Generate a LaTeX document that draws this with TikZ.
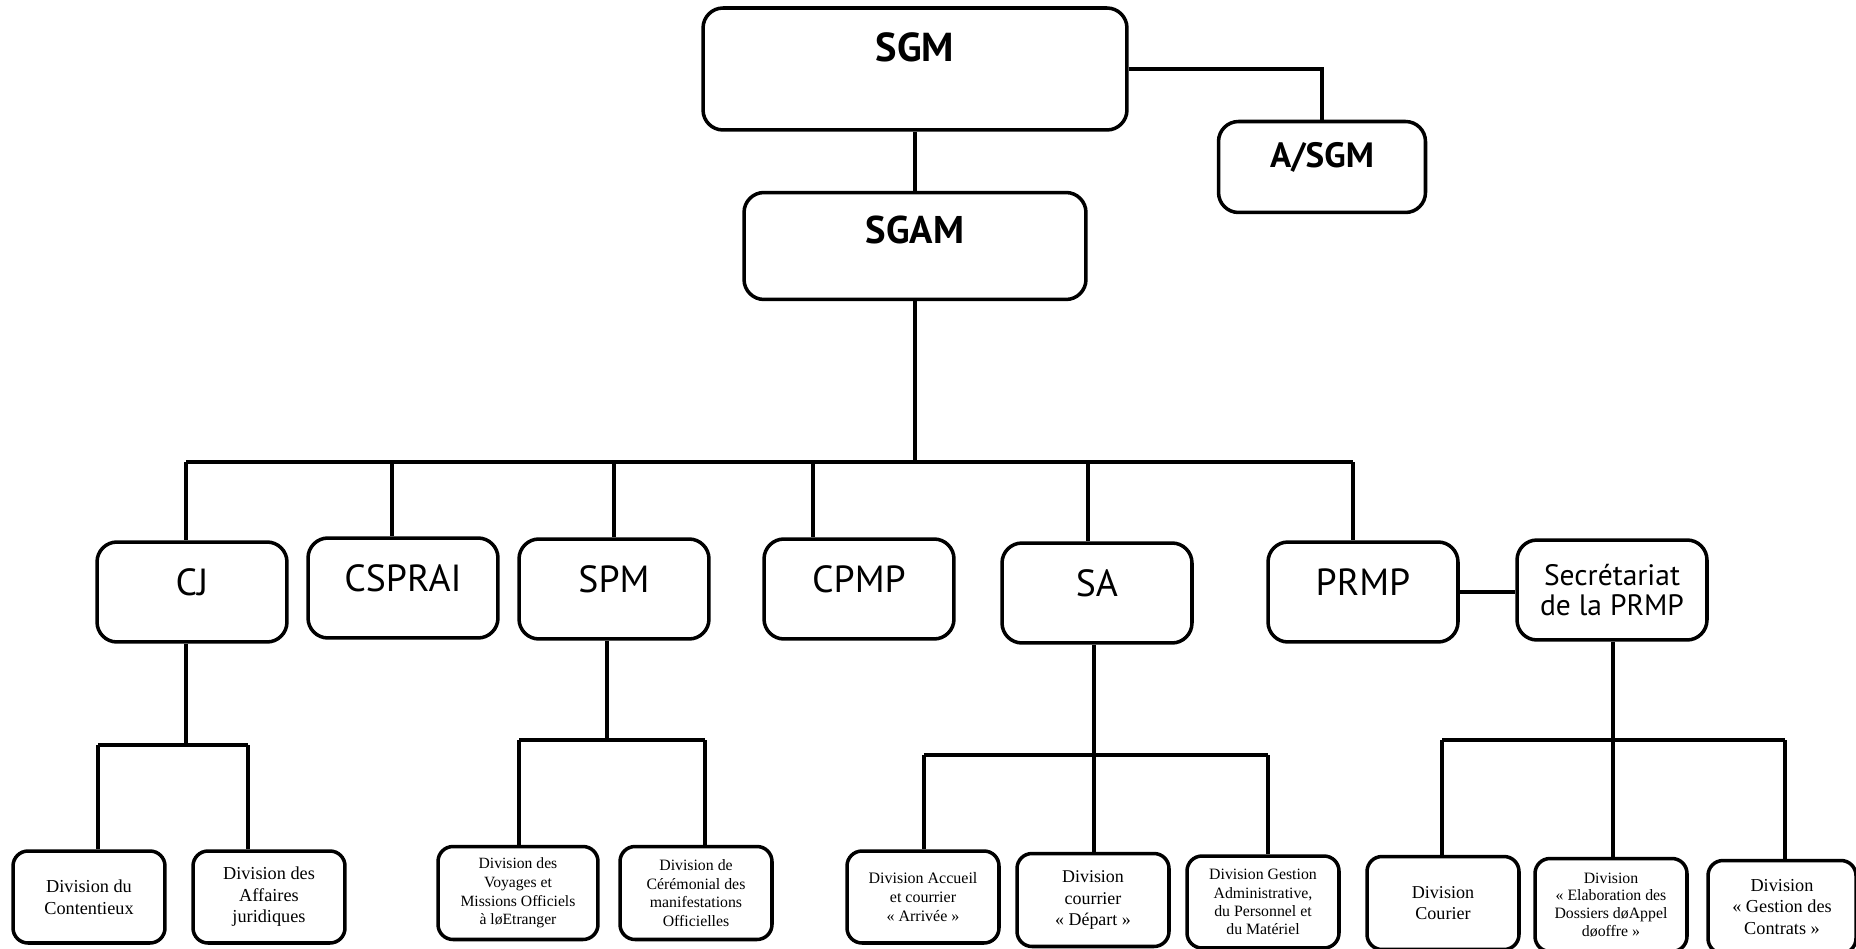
\documentclass[tikz,border=0pt]{standalone}
\usepackage{fontspec}
\setmainfont{Liberation Serif}
\newfontfamily\unitfont{PT Sans}
\usetikzlibrary{math}

\tikzset{
  unit/.style={draw, line width=2pt, rounded corners=0.4cm, align=center, inner sep=0pt},
  division/.style={draw, line width=2pt, rounded corners=0.3cm, align=center, inner sep=0pt,
    minimum width=3.04cm, minimum height=1.84cm},
  link/.style={line width=1.8pt}
}

\begin{document}
\begin{tikzpicture}[x=0.02cm,y=-0.02cm]
\useasboundingbox (0,0) rectangle (1856,949);
\tikzmath{
\busy=462;
\cjy=745;
\spmy=740;
\say=755;
\secy=740;
}

% direction
\node[unit, minimum width=8.48cm, minimum height=2.44cm, text height=0.56cm, text depth=0.84cm,
  font=\unitfont\bfseries\fontsize{23}{23}\selectfont] (SGM) at (915,69) {SGM};
\node[unit, minimum width=4.14cm, minimum height=1.82cm, text height=0.48cm, text depth=0.46cm,
  font=\unitfont\bfseries\fontsize{20}{20}\selectfont] (ASGM) at (1322,167) {A/SGM};
\node[unit, minimum width=6.84cm, minimum height=2.14cm, text height=0.54cm, text depth=0.62cm,
  font=\unitfont\bfseries\fontsize{22}{22}\selectfont] (SGAM) at (915,246) {SGAM};

\draw[link] (SGM) -- (SGAM);
\draw[link] (SGM.east) -| (ASGM.north);

% services
\tikzset{service/.style={unit, minimum width=3.8cm, minimum height=2cm, text height=0.52cm, text depth=0.38cm,
  font=\unitfont\fontsize{21.5}{21.5}\selectfont}}
\node[service] (CJ) at (192,592) {CJ};
\node[service] (CSPRAI) at (403,588) {CSPRAI};
\node[service] (SPM) at (614,589) {SPM};
\node[service] (CPMP) at (859,589) {CPMP};
\node[service] (SA) at (1097,593) {SA};
\node[service] (PRMP) at (1363,592) {PRMP};
\node[unit, minimum width=3.8cm, minimum height=2cm, font=\unitfont\fontsize{16.8}{17.4}\selectfont]
  (SecPRMP) at (1612,590) {Secrétariat\\de la PRMP};

\coordinate (bus) at (915,\busy);
\draw[link] (SGAM.south) -- (bus);
\draw[link] (bus -| 186,0) -- (bus -| 1353,0);
\foreach \n/\x in {CJ/186, CSPRAI/392, SPM/614, CPMP/813, SA/1088, PRMP/1353}
  \draw[link] (bus -| \x,0) -- (\n.north -| \x,0);
\draw[link] (PRMP.east) -- (SecPRMP.west |- PRMP.east);

% divisions CJ
\node[division, font=\fontsize{10.4}{12.3}\selectfont] (Contentieux) at (89,897) {Division du\\Contentieux};
\node[division, font=\fontsize{10.4}{12.2}\selectfont] (Affaires) at (269,897) {Division des\\Affaires\\juridiques};
\coordinate (cjbus) at (186,\cjy);
\draw[link] (CJ.south -| cjbus) -- (cjbus);
\draw[link] (cjbus -| 98,0) -- (cjbus -| 248,0);
\foreach \n/\x in {Contentieux/98, Affaires/248}
  \draw[link] (cjbus -| \x,0) -- (\n.north -| \x,0);

% divisions SPM
\node[division, minimum width=3.2cm, minimum height=1.86cm, font=\fontsize{8.9}{10.7}\selectfont] (Voyages) at (518,893)
  {Division des\\Voyages et\\Missions Officiels\\à løEtranger};
\node[division, minimum height=1.86cm, font=\fontsize{9}{10.7}\selectfont] (Ceremonial) at (696,893)
  {Division de\\Cérémonial des\\manifestations\\Officielles};
\coordinate (spmbus) at (607,\spmy);
\draw[link] (SPM.south -| spmbus) -- (spmbus);
\draw[link] (spmbus -| 519,0) -- (spmbus -| 705,0);
\foreach \n/\x in {Voyages/519, Ceremonial/705}
  \draw[link] (spmbus -| \x,0) -- (\n.north -| \x,0);

% divisions SA
\node[division, font=\fontsize{9.1}{10.8}\selectfont] (Accueil) at (923,897) {Division Accueil\\et courrier\\« Arrivée »};
\node[division, minimum height=1.86cm, font=\fontsize{10.2}{12.3}\selectfont] (Depart) at (1093,900) {Division\\courrier\\« Départ »};
\node[division, font=\fontsize{9}{10.4}\selectfont] (Gestion) at (1263,902)
  {Division Gestion\\Administrative,\\du Personnel et\\du Matériel};
\coordinate (sabus) at (1094,\say);
\draw[link] (SA.south -| sabus) -- (sabus);
\draw[link] (sabus -| 924,0) -- (sabus -| 1268,0);
\foreach \n/\x in {Accueil/924, Depart/1094, Gestion/1268}
  \draw[link] (sabus -| \x,0) -- (\n.north -| \x,0);

% divisions PRMP
\node[division, minimum height=1.86cm, font=\fontsize{10.3}{12.3}\selectfont] (Courier) at (1443,903) {Division\\Courier};
\node[division, minimum height=1.86cm, font=\fontsize{9}{10.2}\selectfont] (Elaboration) at (1611,905)
  {Division\\« Elaboration des\\Dossiers døAppel\\døoffre »};
\node[division, minimum width=2.96cm, minimum height=1.86cm, font=\fontsize{10.4}{12.5}\selectfont] (Contrats) at (1782,907)
  {Division\\« Gestion des\\Contrats »};
\coordinate (secbus) at (1613,\secy);
\draw[link] (SecPRMP.south -| secbus) -- (secbus);
\draw[link] (secbus -| 1442,0) -- (secbus -| 1785,0);
\foreach \n/\x in {Courier/1442, Elaboration/1613, Contrats/1785}
  \draw[link] (secbus -| \x,0) -- (\n.north -| \x,0);

\end{tikzpicture}
\end{document}
